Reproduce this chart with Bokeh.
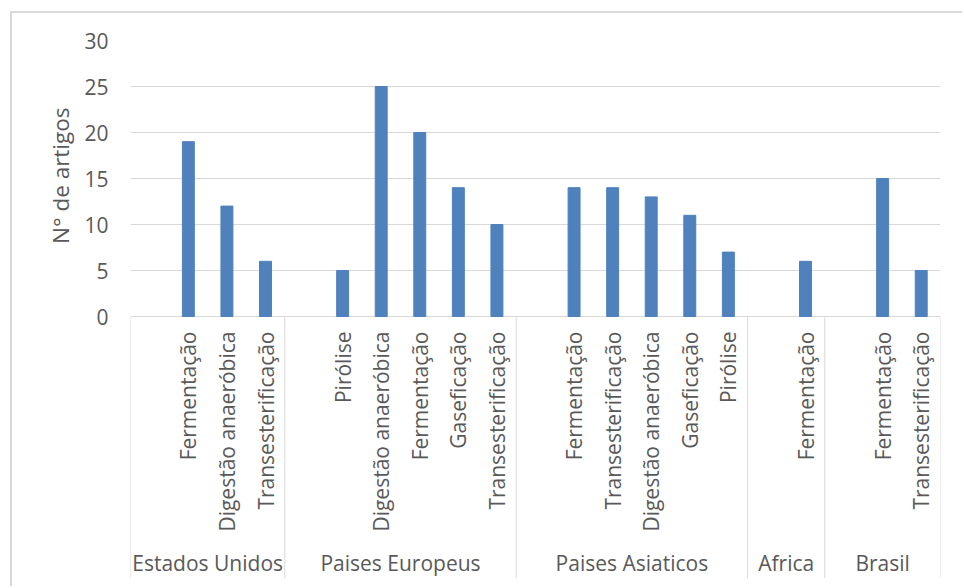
import math
from bokeh.plotting import figure
from bokeh.models import FixedTicker, Title, ColumnDataSource, Range1d
from bokeh.embed import file_html
from bokeh.resources import INLINE
from bokeh.core.properties import value

# ---------------- data ----------------
groups = ["Estados Unidos", "Paises Europeus", "Paises Asiaticos", "Africa", "Brasil"]
eua_cats = ["Fermentação", "Digestão anaeróbica", "Transesterificação"]
eua_vals = [19, 12, 6]
eur_cats = ["Pirólise", "Digestão anaeróbica", "Fermentação", "Gaseficação", "Transesterificação"]
eur_vals = [5, 25, 20, 14, 10]
asia_cats = ["Fermentação", "Transesterificação", "Digestão anaeróbica", "Gaseficação", "Pirólise"]
asia_vals = [14, 14, 13, 11, 7]
africa_cats = ["Fermentação"]
africa_vals = [6]
brasil_cats = ["Fermentação", "Transesterificação"]
brasil_vals = [15, 5]
y_ticks = [0, 5, 10, 15, 20, 25, 30]
y_title = "N° de artigos"

group_cats = [eua_cats, eur_cats, asia_cats, africa_cats, brasil_cats]
group_vals = [eua_vals, eur_vals, asia_vals, africa_vals, brasil_vals]

# ---------------- layout (page pixels) ----------------
PAGE_W, PAGE_H = 964, 588
OX, OY, BW = 10, 11, 2          # chart border position / width
CX, CY = OX + BW, OY + BW       # canvas origin on page
W, H = PAGE_W - CX, PAGE_H - CY
FL, FR, FT, FB = 130 - CX, 940 - CX, 40 - CY, 578 - CY   # frame edges in canvas
ZERO = 316 - CY
TEXT = "#595959"
GRID = "#D9D9D9"
BAR = "#4F81BD"
FONT = "Open Sans"
FS = "21px"

ymax = max(y_ticks)
ppu = (ZERO - FT) / ymax
y_start = -(FB - ZERO) / ppu

# slot positions: one blank slot leading each group (Excel multi-level axis)
xs, vals, cats, bounds, gcent = [], [], [], [0], []
pos = 0
for cl, vl in zip(group_cats, group_vals):
    start = pos
    pos += 1
    for c, v in zip(cl, vl):
        xs.append(pos + 0.5)
        vals.append(v)
        cats.append(c)
        pos += 1
    bounds.append(pos)
    gcent.append((start + pos) / 2)
n_slots = pos

p = figure(width=W, height=H, output_backend="svg", toolbar_location=None,
           x_range=Range1d(0, n_slots), y_range=Range1d(y_start, ymax),
           min_border_left=FL, min_border_right=W - FR, min_border_top=FT,
           min_border_bottom=H - FB)
p.outline_line_color = None
p.background_fill_color = "white"
p.border_fill_color = "white"
p.styles = {"margin-left": f"{OX}px", "margin-top": f"{OY}px",
            "border-left": f"{BW}px solid {GRID}", "border-top": f"{BW}px solid {GRID}"}

p.xaxis.visible = False
p.xgrid.visible = False
p.ygrid.ticker = FixedTicker(ticks=y_ticks)
p.ygrid.grid_line_color = GRID
p.ygrid.grid_line_width = 1

yax = p.yaxis[0]
yax.ticker = FixedTicker(ticks=y_ticks)
yax.axis_line_color = None
yax.major_tick_line_color = None
yax.minor_tick_line_color = None
yax.major_tick_out = 0
yax.major_tick_in = 0
yax.major_label_standoff = 22
yax.major_label_text_font = FONT
yax.major_label_text_font_size = FS
yax.major_label_text_color = TEXT

# group separators below the axis
p.segment(x0=bounds, x1=bounds, y0=[0] * len(bounds), y1=[y_start] * len(bounds),
          line_color=GRID, line_width=1)

# bars
p.vbar(x=xs, top=vals, bottom=0, width=0.31, fill_color=BAR, line_color=BAR)

# category labels (rotated)
src = ColumnDataSource(dict(x=xs, y=[-15 / ppu] * len(xs), t=cats))
p.text(x="x", y="y", text="t", source=src, angle=math.pi / 2,
       text_align="right", text_baseline="middle", text_font=value(FONT),
       text_font_size=FS, text_color=TEXT)

# group labels
gsrc = ColumnDataSource(dict(x=gcent, y=[-(562 - 316) / ppu] * len(gcent), t=groups))
p.text(x="x", y="y", text="t", source=gsrc, text_align="center",
       text_baseline="middle", text_font=value(FONT), text_font_size=FS,
       text_color=TEXT)

# y title: top end placed so the text sits centred on the value part of the axis
p.add_layout(Title(text=y_title, align="right", offset=67,
                   text_font=FONT, text_font_size="22.5px", text_font_style="normal",
                   text_color=TEXT, standoff=12), "left")

open("out.html", "w").write(file_html(p, INLINE))
